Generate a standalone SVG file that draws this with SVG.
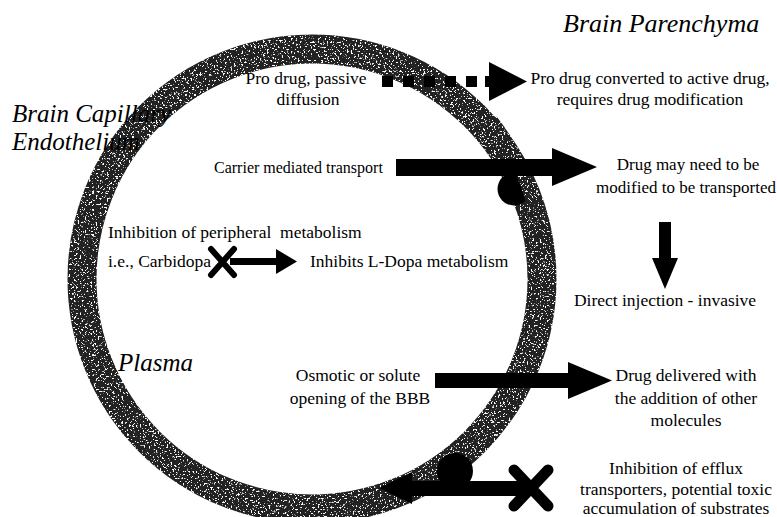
<svg xmlns="http://www.w3.org/2000/svg" width="777" height="517" viewBox="0 0 777 517">
<defs>
<style>
.t{font-family:"Liberation Serif","Times New Roman",serif;font-size:17.5px;fill:#000}
.m{text-anchor:middle}
.i{font-family:"Liberation Serif","Times New Roman",serif;font-style:italic;font-size:26px;fill:#000}
.k{fill:#000}
.x{stroke:#000;stroke-width:6;stroke-linecap:round;fill:none}
.rg{fill:none;stroke:#222;filter:url(#tex)}
</style>
<filter id="tex" x="-5%" y="-5%" width="110%" height="110%">
<feTurbulence type="fractalNoise" baseFrequency="0.55" numOctaves="2" seed="7" result="n"/>
<feColorMatrix in="n" type="matrix" values="0 0 0 0 1 0 0 0 0 1 0 0 0 0 1 14 0 0 0 -8.5" result="sp"/>
<feComposite in="sp" in2="SourceAlpha" operator="in" result="sp2"/>
<feMerge><feMergeNode in="SourceGraphic"/><feMergeNode in="sp2"/></feMerge>
</filter>
</defs>
<rect width="777" height="517" fill="#fff"/>

<g id="ring">
  <circle class="rg" cx="312" cy="279" r="230" stroke-width="29"/>
</g>

<g id="carrier-circle">
  <circle class="k" cx="514" cy="189" r="16.5"/>
  <path class="rg" stroke-width="13" d="M491.5,120.5 A237,237 0 0 1 536,215"/>
</g>

<g id="connectors">
  <g id="prodrug-arrow">
    <rect class="k" x="382" y="76" width="11" height="11"/>
    <rect class="k" x="403" y="76" width="11" height="11"/>
    <rect class="k" x="424" y="76" width="11" height="11"/>
    <rect class="k" x="445" y="76" width="11" height="11"/>
    <rect class="k" x="466" y="76" width="11" height="11"/>
    <rect class="k" x="485" y="76" width="8" height="11"/>
    <polygon class="k" points="489,62 527,81.5 489,101"/>
  </g>
  <g id="carrier-arrow">
    <rect class="k" x="396" y="159" width="162" height="17"/>
    <polygon class="k" points="552,148 597,167 552,186"/>
  </g>
  <g id="carbidopa-arrow">
    <rect class="k" x="230" y="258" width="48" height="7"/>
    <polygon class="k" points="276,249 297,261.5 276,274"/>
    <path class="x" d="M211,249 L234,275 M234,249 L211,275"/>
  </g>
  <g id="injection-arrow">
    <rect class="k" x="659" y="222" width="12" height="38"/>
    <polygon class="k" points="652,258 678,258 665,289"/>
  </g>
  <g id="osmotic-arrow">
    <rect class="k" x="435" y="373" width="137" height="15"/>
    <polygon class="k" points="568,362 612,380.5 568,399"/>
  </g>
  <g id="efflux-arrow">
    <polygon class="k" points="379,488 412,472 412,504"/>
    <circle class="k" cx="455" cy="471" r="18"/>
    <rect class="k" x="405" y="481" width="125" height="15"/>
    <path class="x" style="stroke-width:11" d="M514,470 L548,506 M548,470 L514,506"/>
  </g>
</g>

<g id="label-parenchyma"><text class="i" x="563" y="32">Brain Parenchyma</text></g>
<g id="label-endothelium"><text class="i" x="12" y="122" style="font-size:25px">Brain Capillary</text><text class="i" x="12" y="150" style="font-size:25px">Endothelium</text></g>
<g id="label-plasma"><text class="i" x="118" y="371" style="font-size:25px">Plasma</text></g>

<g id="node-prodrug"><text class="t m" x="306" y="84">Pro drug, passive</text><text class="t m" x="308" y="105">diffusion</text></g>
<g id="node-prodrug-result"><text class="t m" x="650" y="84">Pro drug converted to active drug,</text><text class="t m" x="650" y="105">requires drug modification</text></g>
<g id="node-carrier"><text class="t" x="214" y="173" style="font-size:16px">Carrier mediated transport</text></g>
<g id="node-carrier-result"><text class="t m" x="688" y="170" style="font-size:17px">Drug may need to be</text><text class="t m" x="686" y="193" style="font-size:17px">modified to be transported</text></g>
<g id="node-inhibition"><text class="t" x="108" y="238" xml:space="preserve">Inhibition of peripheral  metabolism</text><text class="t" x="108" y="267">i.e., Carbidopa</text></g>
<g id="node-ldopa"><text class="t" x="310" y="267">Inhibits L-Dopa metabolism</text></g>
<g id="node-injection"><text class="t m" x="665" y="306">Direct injection - invasive</text></g>
<g id="node-osmotic"><text class="t m" x="358" y="381">Osmotic or solute</text><text class="t m" x="360" y="404">opening of the BBB</text></g>
<g id="node-osmotic-result"><text class="t m" x="686" y="381">Drug delivered with</text><text class="t m" x="686" y="404">the addition of other</text><text class="t m" x="686" y="426">molecules</text></g>
<g id="node-efflux"><text class="t m" x="676" y="474">Inhibition of efflux</text><text class="t m" x="676" y="495">transporters, potential toxic</text><text class="t m" x="676" y="514">accumulation of substrates</text></g>
</svg>
